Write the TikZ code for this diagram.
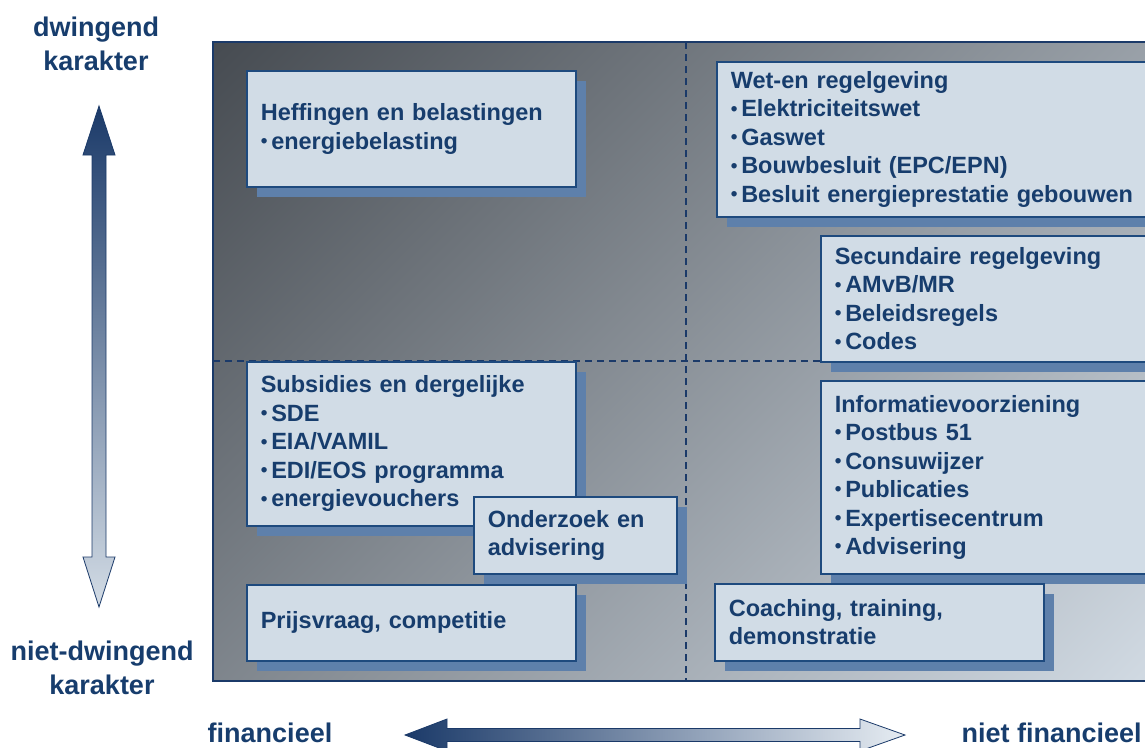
\documentclass[tikz,border=0pt]{standalone}
\usepackage{fontspec}
\setmainfont{Liberation Sans}
\usepackage{tikz}
\usetikzlibrary{shadows,positioning}

\definecolor{txtblue}{HTML}{173D6D}
\definecolor{navy}{HTML}{1B3A69}
\definecolor{boxfill}{HTML}{D1DCE6}
\definecolor{boxline}{HTML}{1E4A7E}
\definecolor{shadowblue}{HTML}{5E80AB}
\definecolor{bgdark}{HTML}{464B51}
\definecolor{bglight}{HTML}{D3DCE5}
\definecolor{arrowlight}{HTML}{E6ECF2}

\newcommand{\itm}{\raisebox{1.8pt}{\fontsize{19}{19}\selectfont\textbullet}\hspace{3.8pt}}

\begin{document}
\begin{tikzpicture}[x=1pt,y=-1pt,
  kader/.style={font=\fontsize{23.5}{28.5}\selectfont\bfseries, text=txtblue,
    draw=boxline, line width=1.6pt, fill=boxfill, anchor=north west,
    align=left, inner xsep=14pt, inner ysep=0pt,
    general shadow={fill=shadowblue, shadow xshift=10pt, shadow yshift=-10pt}},
  label/.style={font=\fontsize{27}{34}\selectfont\bfseries, text=txtblue, align=center},
  scheiding/.style={draw=navy, line width=1.3pt, dash pattern=on 7pt off 5pt},
  pijl/.style={draw=navy, line width=0.8pt}]
\useasboundingbox (0,0) rectangle (1145,747);
\clip (0,0) rectangle (1145,747);

% achtergrond
\begin{scope}
  \clip (213,42) rectangle (1170,681);
  \begin{scope}[transform canvas={rotate around={-45:(691.5,361.5)}}]
    \shade[left color=bgdark, right color=bglight]
      (127.5,-202.5) rectangle (1255.5,925.5);
  \end{scope}
\end{scope}
\draw[scheiding] (686,42) -- (686,681);
\draw[scheiding] (213,361) -- (1170,361);
\draw[navy, line width=1.3pt] (213,42) rectangle (1170,681);

% kaders
\node[kader, text width=301pt, minimum height=116pt] (heffingen) at (246,70)
  {Heffingen en belastingen\\\itm energiebelasting};
\node[kader, text width=422pt, minimum height=155pt] (wetgeving) at (716,61)
  {Wet-en regelgeving\\\itm Elektriciteitswet\\\itm Gaswet\\\itm Bouwbesluit (EPC/EPN)\\\itm Besluit energieprestatie gebouwen};
\node[kader, text width=318pt, minimum height=126pt] (secundair) at (820,235)
  {Secundaire regelgeving\\\itm AMvB/MR\\\itm Beleidsregels\\\itm Codes};
\node[kader, text width=318pt, minimum height=193pt] (informatie) at (820,380)
  {Informatievoorziening\\\itm Postbus 51\\\itm Consuwijzer\\\itm Publicaties\\\itm Expertisecentrum\\\itm Advisering};
\node[kader, text width=301pt, minimum height=164pt] (subsidies) at (246,361)
  {Subsidies en dergelijke\\\itm SDE\\\itm EIA/VAMIL\\\itm EDI/EOS programma\\\itm energievouchers};
\node[kader, text width=175pt, minimum height=77pt] (onderzoek) at (473,496)
  {Onderzoek en\\advisering};
\node[kader, text width=301pt, minimum height=76pt] (prijsvraag) at (246,584)
  {Prijsvraag, competitie};
\node[kader, text width=301pt, minimum height=77pt] (coaching) at (714,583)
  {Coaching, training,\\demonstratie};

% assen
\shade[pijl, top color=navy, bottom color=bglight]
  (99,106) -- (115,155) -- (106,155) -- (106,557) -- (115,557) -- (99,607)
  -- (83,557) -- (92,557) -- (92,155) -- (83,155) -- cycle;
\shade[pijl, left color=navy, right color=arrowlight]
  (405,735) -- (447,719) -- (447,728.5) -- (860,728.5) -- (860,719) -- (905,735)
  -- (860,751) -- (860,741.5) -- (447,741.5) -- (447,751) -- cycle;

\node[label] (dwingend) at (96,44) {dwingend\\karakter};
\node[label] (nietdwingend) at (102,668) {niet-dwingend\\karakter};
\node[label] (financieel) at (270,733) {financieel};
\node[label, anchor=west] (nietfinancieel) at (958,733) {niet financieel};
\end{tikzpicture}
\end{document}
